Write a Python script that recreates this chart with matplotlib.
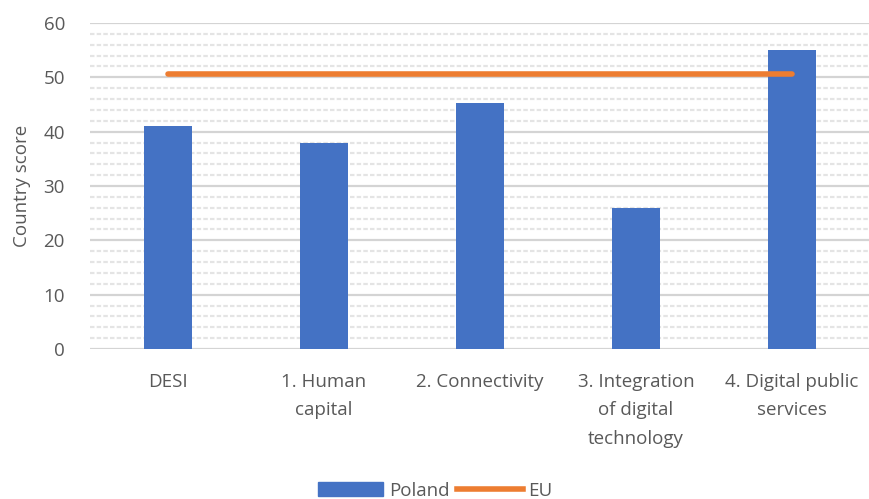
import matplotlib.pyplot as plt
from matplotlib.ticker import MultipleLocator
from matplotlib.lines import Line2D
from matplotlib.patches import Patch

categories = ['DESI', '1. Human\ncapital', '2. Connectivity',
              '3. Integration\nof digital\ntechnology', '4. Digital public\nservices']
poland = [41.0, 37.9, 45.3, 26.0, 55.0]
eu = [50.7, 50.7, 50.7, 50.7, 50.7]

blue = '#4472c4'
orange = '#ed7d31'
grey = '#595959'

plt.rcParams['font.family'] = ['Open Sans', 'DejaVu Sans']

fig = plt.figure(figsize=[8.7, 4.99], dpi=100)
ax = fig.add_axes([90/870, 1-349/499, 780/870, 326/499])

x = list(range(len(categories)))
ax.bar(x, poland, width=0.31, color=blue, zorder=3)
ax.plot(x, eu, color=orange, linewidth=4, solid_capstyle='round', zorder=4)

ax.set_xlim(-0.5, 4.5)
ax.set_ylim(0, 60)
ax.yaxis.set_major_locator(MultipleLocator(10))
ax.yaxis.set_minor_locator(MultipleLocator(2))
ax.grid(axis='y', which='major', color='#d4d4d4', linewidth=1.6, zorder=0)
ax.grid(axis='y', which='minor', color='#e4e4e4', linewidth=1.6,
        linestyle=(0, (2, 1)), zorder=0)

ax.set_xticks(x)
ax.set_xticklabels(categories, fontsize=13.5, color=grey, va='top', linespacing=1.75)
ax.tick_params(axis='x', length=0, pad=17)
ax.tick_params(axis='y', which='both', length=0, labelsize=13.5, labelcolor=grey, pad=18)
ax.set_ylabel('Country score', fontsize=13.5, color=grey, labelpad=9)

for s in ax.spines.values():
    s.set_visible(False)

handles = [Patch(color=blue, label='Poland'),
           Line2D([0], [0], color=orange, linewidth=4, label='EU')]
fig.legend(handles=handles, loc='lower center', bbox_to_anchor=(0.5, -0.035), ncol=2,
           frameon=False, fontsize=13.5, labelcolor=grey, handlelength=3.5,
           handletextpad=0.3, columnspacing=0.4)

fig.savefig('out.png', dpi=100)
